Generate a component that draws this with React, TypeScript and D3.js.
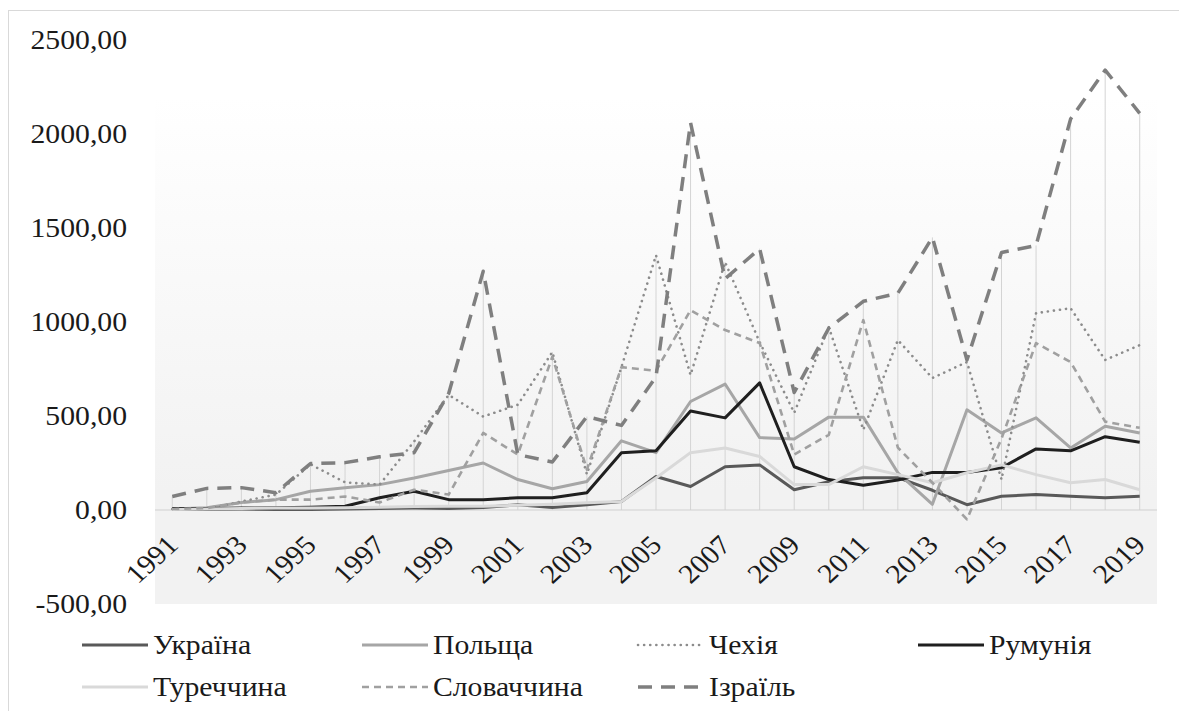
import { useEffect, useRef } from 'react';
import * as d3 from 'd3';

const years = d3.range(1991, 2020).map(String);

const ukraine = [2, 3, 5, 3, 3, 5, 8, 10, 8, 13, 28, 13, 28, 45, 178, 125, 230, 240, 108, 150, 172, 172, 105, 28, 73, 82, 73, 65, 73];
const poland = [5, 12, 40, 55, 100, 118, 135, 170, 210, 250, 162, 113, 152, 368, 305, 577, 670, 385, 378, 494, 494, 198, 30, 533, 410, 490, 330, 445, 410];
const czechia = [5, 5, 45, 82, 243, 147, 135, 365, 612, 497, 560, 840, 190, 760, 1355, 718, 1318, 893, 517, 973, 427, 904, 702, 787, 162, 1047, 1073, 798, 877];
const romania = [8, 8, 10, 12, 15, 20, 65, 100, 55, 55, 65, 65, 92, 305, 315, 527, 490, 676, 230, 162, 132, 160, 200, 200, 225, 325, 315, 390, 360];
const turkey = [3, 5, 8, 10, 10, 12, 15, 18, 20, 20, 25, 30, 38, 45, 170, 305, 330, 285, 135, 135, 230, 188, 145, 198, 240, 188, 145, 162, 108];
const slovakia = [5, 10, 40, 55, 55, 72, 40, 108, 82, 410, 295, 815, 215, 760, 740, 1063, 957, 888, 295, 400, 1010, 332, 145, -50, 380, 888, 787, 470, 437];
const israel = [72, 115, 119, 92, 247, 252, 283, 305, 620, 1270, 295, 255, 497, 450, 708, 2060, 1230, 1390, 625, 967, 1110, 1153, 1450, 798, 1370, 1407, 2080, 2340, 2110];

const seriesNames = ['Україна', 'Польща', 'Чехія', 'Румунія', 'Туреччина', 'Словаччина', 'Ізраїль'];
const seriesValues = [ukraine, poland, czechia, romania, turkey, slovakia, israel];
const yTicks = [-500, 0, 500, 1000, 1500, 2000, 2500];

const styles = [
    { color: '#595959', width: 3, dash: null, cap: 'butt' },
    { color: '#a6a6a6', width: 3, dash: null, cap: 'butt' },
    { color: '#8c8c8c', width: 2.6, dash: '0.1 6', cap: 'round' },
    { color: '#1f1f1f', width: 3, dash: null, cap: 'butt' },
    { color: '#d9d9d9', width: 3, dash: null, cap: 'butt' },
    { color: '#a0a0a0', width: 2.6, dash: '7 5', cap: 'butt' },
    { color: '#7f7f7f', width: 3.5, dash: '14 9', cap: 'butt' },
];

const FONT = "'Liberation Serif', 'Times New Roman', 'DejaVu Serif', serif";
// the source picture is a little wider than tall, text is stretched to match
const STRETCH = 'scale(1.1,1)';

const App = () => {
    const ref = useRef(null);
    const width = 1179,
        height = 711;

    useEffect(() => {
        const svg = d3.select(ref.current);
        svg.selectAll('*').remove();

        const left = 155,
            right = 1157,
            top = 40,
            bottom = 604;

        const x = d3.scaleBand().domain(years).range([left, right]).padding(0);
        const y = d3.scaleLinear().domain([-500, 2500]).range([bottom, top]);
        const cx = (d) => x(d) + x.bandwidth() / 2;

        const fmt = d3
            .formatLocale({ decimal: ',', thousands: '', grouping: [3], currency: ['', ''], minus: '-' })
            .format('.2f');

        // outer frame (only left and top edges are visible)
        svg.append('rect')
            .attr('x', 8.5)
            .attr('y', 10.5)
            .attr('width', 1200)
            .attr('height', 800)
            .attr('fill', 'white')
            .attr('stroke', '#d9d9d9');

        // plot area gradient
        const grad = svg.append('defs').append('linearGradient').attr('id', 'bg').attr('x1', 0).attr('y1', 0).attr('x2', 0).attr('y2', 1);
        grad.append('stop').attr('offset', '0.1').attr('stop-color', '#ffffff');
        grad.append('stop').attr('offset', '0.8').attr('stop-color', '#f2f2f2');
        grad.append('stop').attr('offset', '1').attr('stop-color', '#f2f2f2');

        svg.append('rect')
            .attr('x', left)
            .attr('y', top)
            .attr('width', right - left)
            .attr('height', bottom - top)
            .attr('fill', 'url(#bg)');

        // drop lines
        svg.append('g')
            .selectAll('line')
            .data(years)
            .enter()
            .append('line')
            .attr('x1', (d) => cx(d))
            .attr('x2', (d) => cx(d))
            .attr('y1', y(0))
            .attr('y2', (d, i) => y(d3.max(seriesValues, (s) => s[i])))
            .attr('stroke', '#d4d4d4')
            .attr('stroke-width', 1);

        // zero axis line
        svg.append('line')
            .attr('x1', left)
            .attr('x2', right)
            .attr('y1', y(0))
            .attr('y2', y(0))
            .attr('stroke', '#d0d0d0')
            .attr('stroke-width', 1);

        // y tick labels
        svg.append('g')
            .selectAll('text')
            .data(yTicks)
            .enter()
            .append('text')
            .attr('transform', (d) => `translate(127,${y(d)}) ${STRETCH}`)
            .attr('dy', '0.35em')
            .attr('text-anchor', 'end')
            .style('font-family', FONT)
            .style('font-size', '27px')
            .attr('fill', '#1a1a1a')
            .text((d) => fmt(d));

        // x tick labels (every other year)
        svg.append('g')
            .selectAll('text')
            .data(years.filter((d, i) => i % 2 === 0))
            .enter()
            .append('text')
            .attr('transform', (d) => `translate(${cx(d)},${y(0) + 30}) ${STRETCH} rotate(-45)`)
            .attr('dy', '0.35em')
            .attr('text-anchor', 'end')
            .style('font-family', FONT)
            .style('font-size', '27px')
            .attr('fill', '#1a1a1a')
            .text((d) => d);

        // lines
        const line = d3
            .line()
            .x((d, i) => cx(years[i]))
            .y((d) => y(d));

        svg.append('g')
            .selectAll('path')
            .data(seriesValues)
            .enter()
            .append('path')
            .attr('d', (d) => line(d))
            .attr('fill', 'none')
            .attr('stroke', (d, i) => styles[i].color)
            .attr('stroke-width', (d, i) => styles[i].width)
            .attr('stroke-dasharray', (d, i) => styles[i].dash)
            .attr('stroke-linecap', (d, i) => styles[i].cap)
            .attr('stroke-linejoin', 'round');

        // legend
        const legendCols = [82, 362, 638, 918];
        const legendRows = [645, 687];
        const legend = svg.append('g')
            .selectAll('g')
            .data(seriesNames)
            .enter()
            .append('g')
            .attr('transform', (d, i) => `translate(${legendCols[i % 4]},${legendRows[Math.floor(i / 4)]})`);

        legend.append('line')
            .attr('x1', 0)
            .attr('x2', 66)
            .attr('y1', 0)
            .attr('y2', 0)
            .attr('stroke', (d, i) => styles[i].color)
            .attr('stroke-width', (d, i) => styles[i].width)
            .attr('stroke-dasharray', (d, i) => styles[i].dash)
            .attr('stroke-linecap', (d, i) => styles[i].cap);

        legend.append('text')
            .attr('transform', `translate(71,0) ${STRETCH}`)
            .attr('dy', '0.33em')
            .style('font-family', FONT)
            .style('font-size', '27px')
            .attr('fill', '#1a1a1a')
            .text((d) => d);
    }, []);

    return (
        <svg
            ref={ref}
            width={width}
            height={height}
            style={{ position: 'absolute', left: 0, top: 0, display: 'block' }}
        ></svg>
    );
};

export default App;
